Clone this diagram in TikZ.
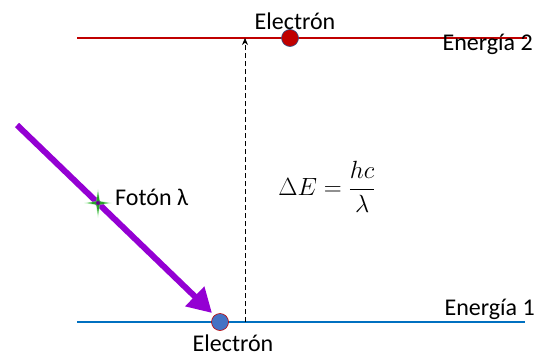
\documentclass[tikz,border=0pt]{standalone}
\usepackage{amsmath}
\usepackage{fontspec}
\setmainfont{Carlito}
\usetikzlibrary{arrows.meta}
\definecolor{lvlred}{HTML}{C00000}
\definecolor{lvlblue}{HTML}{0070C0}
\definecolor{eblue}{HTML}{4472C4}
\definecolor{phot}{HTML}{9400D3}
\definecolor{starg}{HTML}{33CC33}
\begin{document}
\begin{tikzpicture}[x=1pt,y=-1pt,
  lbl/.style={inner sep=0pt,font=\fontsize{24}{28}\selectfont},
  level/.style={line width=2pt},
  elec/.style={circle,inner sep=0pt,minimum size=17pt,line width=0.6pt}]
\useasboundingbox (0,0) rectangle (540,356);
% levels
\coordinate (t1) at (77,38); \coordinate (t2) at (527,38);
\coordinate (b1) at (77,322); \coordinate (b2) at (525,322);
\draw[level,lvlred] (t1) -- (t2);
\draw[level,lvlblue] (b1) -- (b2);
% dashed arrow
\coordinate (d1) at (245,322); \coordinate (d2) at (245,38);
\draw[dash pattern=on 5pt off 3pt,line width=0.7pt,-{Stealth[length=7pt,width=6pt]}] (d1) -- (d2);
% electrons
\node[elec,fill=lvlred,draw=eblue!70!black] (e2) at (290,38) {};
\node[elec,fill=eblue,draw=lvlred] (e1) at (220,322) {};
\node[lbl,anchor=base] (le2) at (295,29) {Electrón};
\node[lbl,anchor=base] (le1) at (233,351) {Electrón};
\node[lbl,anchor=base east] (en2) at (533,50) {Energía 2};
\node[lbl,anchor=base east] (en1) at (535,315) {Energía 1};
% photon
\coordinate (p1) at (17,125);
\coordinate (p2) at (212,313);
\draw[phot,line width=6pt,-{Triangle[length=24pt,width=26pt]}] (p1) -- (p2);
% star
\node[inner sep=0pt] (st) at (98,203) {};
\fill[starg!60,opacity=0.6] (98,189) -- (100,201) -- (112,203) -- (100,205) -- (98,218) -- (96,205) -- (84,203) -- (96,201) -- cycle;
\fill[starg!80!black] (98,192) -- (99.5,201.5) -- (108,203) -- (99.5,204.5) -- (98,214) -- (96.5,204.5) -- (88,203) -- (96.5,201.5) -- cycle;
\fill[phot!70!black] (st) circle (2pt);
\node[lbl,anchor=base west] (fot) at (115,205) {Fotón λ};
% formula
\node[inner sep=0pt,font=\fontsize{23}{27}\selectfont] (form) at (327,187) {$\Delta E=\dfrac{hc}{\lambda}$};
\end{tikzpicture}
\end{document}
